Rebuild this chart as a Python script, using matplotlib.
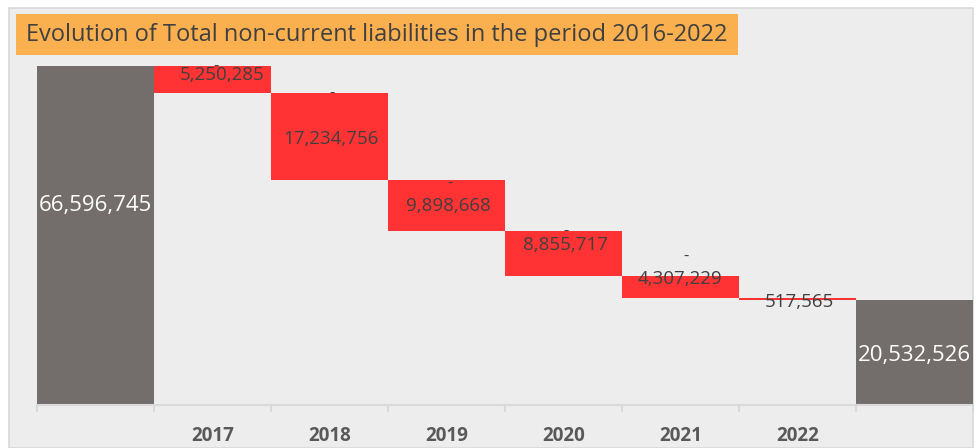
import matplotlib
matplotlib.use("Agg")
import matplotlib.pyplot as plt
from matplotlib.patches import Rectangle

plt.rcParams['font.family'] = ['Open Sans', 'DejaVu Sans']

start_label = "2016"
start_value = 66596745
years = ["2017", "2018", "2019", "2020", "2021", "2022"]
decreases = [5250285, 17234756, 9898668, 8855717, 4307229, 517565]
end_value = 20532526

grey = "#736e6c"
red = "#ff3333"
txt = "#404040"

# label nudges in pixels (dx, dy)
label_nudge = [(10, 4), (1, -2), (2, 0), (2, 8), (-1, 8), (2, -3)]
dash_nudge = [(4, -1), (3, -1), (4, -3), (3, -1), (5, 19), None]
start_nudge = (0, 30)
end_nudge = (0, -3)

fig = plt.figure(figsize=(9.77, 4.48), dpi=100)
W, H = 977, 448

# outer chart frame
fig.patches.append(Rectangle((9 / W, 0), (973 - 9) / W, (H - 8) / H,
                             transform=fig.transFigure, facecolor="#ededed",
                             edgecolor="#d9d9d9", linewidth=1.2, zorder=-5))

ax = fig.add_axes([37 / W, (H - 405) / H, (973 - 37) / W, (405 - 48) / H])
ax.set_facecolor("none")
ax.set_zorder(2)

# waterfall
n = len(years)
ax.bar(0, start_value, width=1.0, color=grey)
level = start_value
tops, bottoms = [], []
for i, d in enumerate(decreases):
    ax.bar(i + 1, d, bottom=level - d, width=1.0, color=red)
    tops.append(level)
    bottoms.append(level - d)
    level -= d
ax.bar(n + 1, end_value, width=1.0, color=grey)

ax.set_xlim(-0.5, n + 1.5)
ax.set_ylim(0, start_value * 357 / 339)

# value labels
ax.annotate(f"{start_value:,}", (0, start_value / 2),
            xytext=(start_nudge[0] * 0.72, start_nudge[1] * 0.72),
            textcoords="offset points", ha="center", va="center",
            color="white", fontsize=16)
ax.annotate(f"{end_value:,}", (n + 1, end_value / 2),
            xytext=(end_nudge[0] * 0.72, end_nudge[1] * 0.72),
            textcoords="offset points", ha="center", va="center",
            color="white", fontsize=16)
for i, d in enumerate(decreases):
    dx, dy = label_nudge[i]
    mid = (tops[i] + bottoms[i]) / 2
    ax.annotate(f"{d:,}", (i + 1, mid), xytext=(dx * 0.72, dy * 0.72),
                textcoords="offset points", ha="center", va="center",
                color=txt, fontsize=13.5)
    if dash_nudge[i] is not None:
        ddx, ddy = dash_nudge[i]
        ax.annotate("-", (i + 1, tops[i]), xytext=(ddx * 0.72, ddy * 0.72),
                    textcoords="offset points", ha="center", va="center",
                    color=txt, fontsize=12)

# axis
for s in ["top", "right", "left"]:
    ax.spines[s].set_visible(False)
ax.spines["bottom"].set_color("#d9d9d9")
ax.spines["bottom"].set_linewidth(1.5)
ax.set_yticks([])
ax.set_xticks([i - 0.5 for i in range(n + 3)])
ax.set_xticklabels([])
ax.tick_params(axis="x", which="major", length=5, color="#d9d9d9", width=1.5)
ax.set_xticks(range(1, n + 1), minor=True)
ax.set_xticklabels(years, minor=True, fontweight="bold", color="#595959",
                   fontsize=13.5)
ax.tick_params(axis="x", which="minor", length=0, pad=15)

# title box
fig.patches.append(Rectangle((16 / W, (H - 55) / H), (738 - 16) / W, 41 / H,
                             transform=fig.transFigure, facecolor="#fbb050",
                             edgecolor="none", zorder=3))
fig.text(26 / W, (H - 35) / H,
         f"Evolution of Total non-current liabilities in the period {start_label}-{years[-1]}",
         ha="left", va="center", fontsize=17.0, color=txt, zorder=4)

fig.savefig("out.png", dpi=100, facecolor="white")
